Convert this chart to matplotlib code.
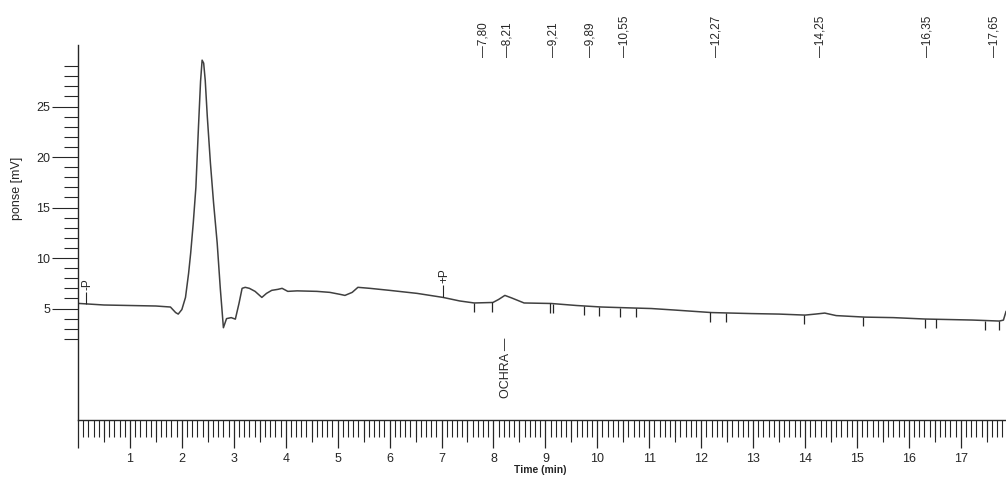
import matplotlib
matplotlib.use("Agg")
import matplotlib.pyplot as plt
import numpy as np
from matplotlib.ticker import FixedLocator, MultipleLocator, FuncFormatter

plt.rcParams['font.family'] = ['Liberation Sans', 'DejaVu Sans']

# chromatogram trace (time in min, signal in mV)
time_min = [0.03, 0.5, 1.0, 1.5, 1.78, 1.88, 1.93, 2.0, 2.07, 2.13, 2.17, 2.22,
            2.27, 2.32, 2.36, 2.39, 2.42, 2.45, 2.49, 2.55, 2.61, 2.68, 2.74, 2.80,
            2.86, 2.95, 3.03, 3.10, 3.16, 3.22, 3.30, 3.41, 3.54, 3.63, 3.73,
            3.85, 3.93, 4.04, 4.22, 4.60, 4.85, 5.05, 5.14, 5.28, 5.39, 5.62,
            6.0, 6.53, 7.03, 7.35, 7.63, 7.99, 8.10, 8.22, 8.35, 8.47, 8.59,
            9.11, 9.6, 10.08, 10.71, 11.04, 11.49, 12.2, 12.97, 13.5, 14.0,
            14.2, 14.38, 14.6, 15.15, 15.7, 16.31, 17.22, 17.74, 17.82, 17.87]
signal_mv = [5.5, 5.35, 5.3, 5.25, 5.15, 4.6, 4.45, 4.9, 6.1, 8.5, 10.5, 13.5,
             17.0, 23.0, 27.5, 29.6, 29.3, 27.6, 24.0, 19.4, 15.5, 11.5, 7.0, 3.1,
             4.0, 4.1, 3.95, 5.5, 7.0, 7.1, 7.0, 6.7, 6.1, 6.5, 6.8,
             6.9, 7.0, 6.7, 6.75, 6.7, 6.6, 6.4, 6.3, 6.6, 7.1, 7.0,
             6.8, 6.5, 6.1, 5.75, 5.55, 5.6, 5.9, 6.3, 6.05, 5.8, 5.55,
             5.5, 5.3, 5.15, 5.05, 5.0, 4.85, 4.6, 4.5, 4.45, 4.35,
             4.45, 4.55, 4.3, 4.15, 4.1, 3.96, 3.86, 3.76, 3.85, 4.7]

# integration marks under the baseline
event_times = [7.62, 7.97, 9.09, 9.15, 9.74, 10.03, 10.44, 10.74, 12.17, 12.48,
               13.98, 15.11, 16.31, 16.52, 17.46, 17.73]

# retention time labels along the top
rt_pos = [7.80, 8.28, 9.16, 9.86, 10.53, 12.30, 14.29, 16.36, 17.65]
rt_labels = ['7,80', '8,21', '9,21', '9,89', '10,55', '12,27', '14,25', '16,35', '17,65']

# event markers
p_times = [0.15, 7.03]
p_labels = ['-P', '+P']

ink = '#262626'
fig = plt.figure(figsize=(10.06, 4.79), dpi=100)
ax = fig.add_axes([78 / 1006, 59 / 479, 928 / 1006, 375 / 479])

ax.plot(time_min, signal_mv, color='#404040', lw=1.1)

base = np.interp(event_times, time_min, signal_mv)
ax.vlines(event_times, base - 0.9, base, color=ink, lw=0.9)

pb = np.interp(p_times, time_min, signal_mv)
ax.vlines(p_times, pb, pb + 1.2, color=ink, lw=0.8)
for t, y, s in zip(p_times, pb, p_labels):
    ax.text(t + 0.03, y + 1.4, s, rotation=90, ha='center', va='bottom',
            fontsize=8.5, color=ink)

for t, s in zip(rt_pos, rt_labels):
    ax.text(t, 29.9, '\u2014' + s, rotation=90, ha='center', va='bottom',
            fontsize=8.5, color=ink)

ax.text(8.25, -3.9, 'OCHRA \u2014', rotation=90, ha='center', va='bottom',
        fontsize=9, color=ink)

ax.set_xlim(0, 17.87)
ax.set_ylim(-6.04, 31.1)
for s in ['top', 'right']:
    ax.spines[s].set_visible(False)
for s in ['left', 'bottom']:
    ax.spines[s].set_color(ink)
    ax.spines[s].set_linewidth(1.0)

ax.xaxis.set_major_locator(MultipleLocator(1))
ax.xaxis.set_minor_locator(MultipleLocator(0.1))
ax.xaxis.set_major_formatter(FuncFormatter(lambda v, p: '' if v < 0.5 else '%d' % v))
ax.tick_params(axis='x', which='major', length=20, width=0.9, pad=4,
               labelsize=9, colors=ink)
ax.tick_params(axis='x', which='minor', length=12, width=0.8, colors=ink)

ax.yaxis.set_major_locator(FixedLocator([5, 10, 15, 20, 25]))
ax.yaxis.set_minor_locator(FixedLocator(list(range(2, 30))))
ax.tick_params(axis='y', which='major', length=19, width=0.8, pad=1,
               labelsize=9, colors=ink)
ax.tick_params(axis='y', which='minor', length=10, width=0.8, colors=ink)

# half-minute ticks
sec = ax.secondary_xaxis('bottom')
sec.set_xticks(np.arange(0.5, 18, 1.0))
sec.tick_params(axis='x', which='major', length=16, width=0.8, labelbottom=False,
                colors=ink)
sec.tick_params(axis='x', which='minor', length=0)
sec.spines['bottom'].set_visible(False)

fig.text(17 / 1006, 1 - 188 / 479, 'ponse [mV]', rotation=90, ha='center',
         va='center', fontsize=9, color=ink)
fig.text(540 / 1006, 1 - 470 / 479, 'Time (min)', ha='center', va='center',
         fontsize=7.5, fontweight='bold', color=ink)

fig.savefig('out.png', dpi=100)
